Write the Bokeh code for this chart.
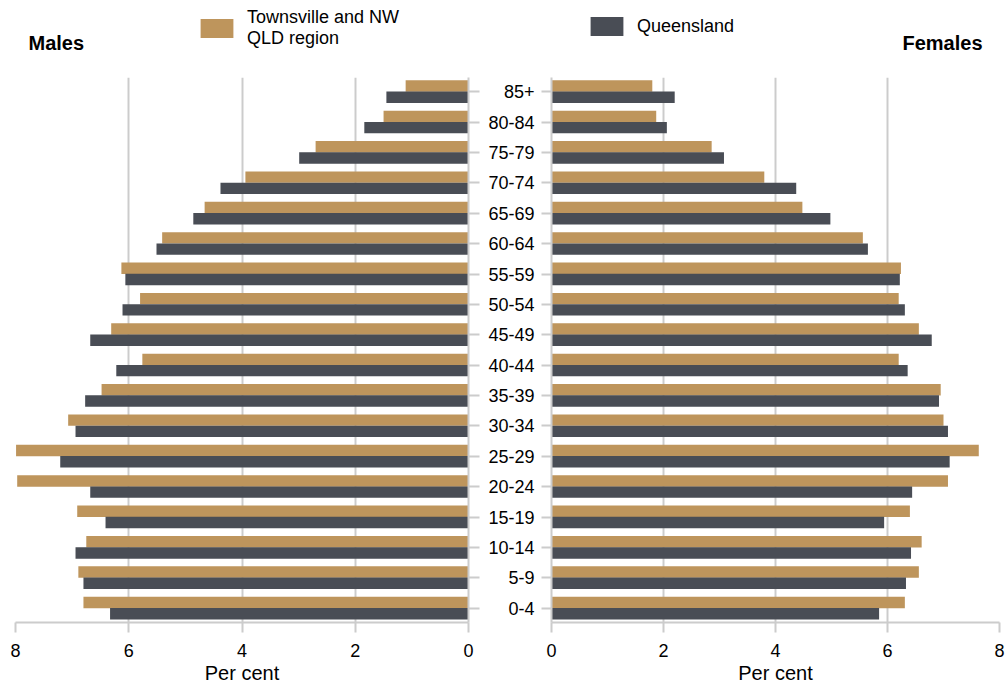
from bokeh.plotting import figure
from bokeh.layouts import row, column
from bokeh.models import Range1d, FixedTicker, Legend, LegendItem, Label, ColumnDataSource
from bokeh.embed import file_html
from bokeh.resources import INLINE

age_groups = ["0-4", "5-9", "10-14", "15-19", "20-24", "25-29", "30-34", "35-39", "40-44",
              "45-49", "50-54", "55-59", "60-64", "65-69", "70-74", "75-79", "80-84", "85+"]

# Per cent of population, listed from 0-4 upward
males_townsville = [6.80, 6.89, 6.75, 6.91, 7.97, 7.99, 7.07, 6.48, 5.76,
                    6.31, 5.80, 6.13, 5.41, 4.66, 3.94, 2.70, 1.50, 1.11]
males_qld = [6.33, 6.80, 6.94, 6.41, 6.68, 7.21, 6.94, 6.77, 6.22,
             6.68, 6.11, 6.06, 5.51, 4.86, 4.38, 2.99, 1.84, 1.45]
females_townsville = [6.31, 6.56, 6.61, 6.40, 7.08, 7.63, 7.00, 6.95, 6.20,
                      6.56, 6.20, 6.24, 5.56, 4.48, 3.80, 2.86, 1.87, 1.80]
females_qld = [5.85, 6.33, 6.42, 5.94, 6.44, 7.11, 7.08, 6.92, 6.36,
               6.79, 6.31, 6.22, 5.65, 4.98, 4.37, 3.08, 2.06, 2.20]

x_ticks = [0, 2, 4, 6, 8]
series_names = ["Townsville and NW\nQLD region", "Queensland"]
panel_titles = ["Males", "Females"]

TAN = "#BE955C"
DARK = "#494D55"
GRID = "#CCCCCC"
FONT = "Liberation Sans"

idx = list(range(len(age_groups)))
y_town = [i + 0.19 for i in idx]
y_qld = [i - 0.18 for i in idx]
labels = {i: g for i, g in enumerate(age_groups)}
Y0, Y1 = -0.47, 17.47


def style(p):
    p.outline_line_color = None
    p.background_fill_color = "white"
    p.border_fill_color = "white"
    p.ygrid.grid_line_color = None
    p.xgrid.ticker = FixedTicker(ticks=x_ticks)
    p.xgrid.grid_line_color = GRID
    p.xgrid.grid_line_width = 2
    xa = p.xaxis[0]
    xa.ticker = FixedTicker(ticks=x_ticks)
    xa.axis_line_color = GRID
    xa.axis_line_width = 2
    xa.major_tick_line_color = GRID
    xa.major_tick_line_width = 2
    xa.major_tick_out = 10
    xa.major_tick_in = 0
    xa.minor_tick_line_color = None
    xa.major_label_text_font = FONT
    xa.major_label_text_font_size = "18px"
    xa.major_label_text_color = "black"
    xa.major_label_standoff = 11
    xa.axis_label = "Per cent"
    xa.axis_label_text_font = FONT
    xa.axis_label_text_font_size = "20px"
    xa.axis_label_text_font_style = "normal"
    xa.axis_label_text_color = "black"
    xa.axis_label_standoff = 2
    ya = p.yaxis[0]
    ya.axis_line_color = GRID
    ya.axis_line_width = 2


# Left: males
pl = figure(width=483, height=611, x_range=Range1d(8, 0), y_range=Range1d(Y0, Y1),
            output_backend="svg", toolbar_location=None, y_axis_location="right",
            min_border_left=15, min_border_right=15, min_border_top=0, min_border_bottom=66)
src_m = ColumnDataSource(dict(yt=y_town, yq=y_qld, t=males_townsville, q=males_qld))
pl.hbar(y="yt", left=0, right="t", height=0.375, source=src_m, color=TAN, line_color=None)
pl.hbar(y="yq", left=0, right="q", height=0.375, source=src_m, color=DARK, line_color=None)
style(pl)
# tick marks only (no labels) on the inner edge of the males panel
yl = pl.yaxis[0]
yl.ticker = FixedTicker(ticks=[], minor_ticks=idx)
yl.major_tick_line_color = None
yl.minor_tick_line_color = GRID
yl.minor_tick_line_width = 2
yl.minor_tick_in = 0
yl.minor_tick_out = 11

# Right: females
pr = figure(width=522, height=611, x_range=Range1d(0, 8), y_range=Range1d(Y0, Y1),
            output_backend="svg", toolbar_location=None,
            min_border_left=68, min_border_right=6, min_border_top=0, min_border_bottom=66)
src_f = ColumnDataSource(dict(yt=y_town, yq=y_qld, t=females_townsville, q=females_qld))
pr.hbar(y="yt", left=0, right="t", height=0.375, source=src_f, color=TAN, line_color=None)
pr.hbar(y="yq", left=0, right="q", height=0.375, source=src_f, color=DARK, line_color=None)
style(pr)
yr = pr.yaxis[0]
yr.ticker = FixedTicker(ticks=idx)
yr.major_label_overrides = labels
yr.major_tick_line_color = GRID
yr.major_tick_line_width = 2
yr.major_tick_in = 0
yr.major_tick_out = 10
yr.minor_tick_line_color = None
yr.major_label_standoff = 7
yr.major_label_text_font = FONT
yr.major_label_text_font_size = "18px"
yr.major_label_text_color = "black"

# Header strip: panel titles and legend (pixel-scaled ranges)
hd = figure(width=1005, height=77, x_range=Range1d(0, 1005), y_range=Range1d(0, 77),
            output_backend="svg", toolbar_location=None,
            min_border_left=0, min_border_right=0, min_border_top=0, min_border_bottom=0)
hd.axis.visible = False
hd.grid.visible = False
hd.outline_line_color = None
hd.border_fill_color = "white"
# invisible legend proxies (zero-length bars far outside the view)
proxy = ColumnDataSource(dict(y=[-100], r=[0]))
h1 = hd.hbar(y="y", left=0, right="r", height=1, source=proxy, color=TAN, line_color=None)
h2 = hd.hbar(y="y", left=0, right="r", height=1, source=proxy, color=DARK, line_color=None)

hd.add_layout(Label(x=28, y=35, text=panel_titles[0], text_font=FONT, text_font_size="20px",
                    text_font_style="bold", text_baseline="middle", text_align="left",
                    text_color="black"))
hd.add_layout(Label(x=982, y=35, text=panel_titles[1], text_font=FONT, text_font_size="20px",
                    text_font_style="bold", text_baseline="middle", text_align="right",
                    text_color="black"))


def make_legend(r, name, loc):
    return Legend(items=[LegendItem(label=name, renderers=[r])], location=loc,
                  orientation="vertical", padding=0, margin=0, border_line_color=None,
                  background_fill_alpha=0, glyph_width=41, glyph_height=24,
                  label_standoff=10, label_text_font=FONT, label_text_font_size="18px",
                  label_text_line_height=1.1, label_text_color="black")


hd.add_layout(make_legend(h1, series_names[0], (196, 28)))
hd.add_layout(make_legend(h2, series_names[1], (586, 39)))

layout = column(hd, row(pl, pr))
open("out.html", "w").write(file_html(layout, INLINE))
